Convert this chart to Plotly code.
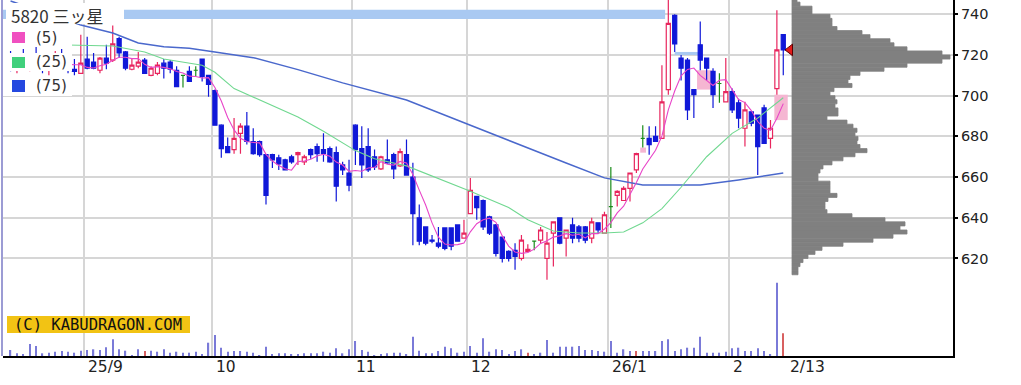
import pandas as pd
import plotly.graph_objects as go

# ---------------- data ----------------
holidays = ["2025-09-15", "2025-09-23", "2025-10-13", "2025-11-03", "2025-11-24",
            "2025-12-31", "2026-01-01", "2026-01-02", "2026-01-12", "2026-02-11"]
trading_days = pd.bdate_range("2025-08-14", "2026-02-13")
trading_days = trading_days[~trading_days.isin(pd.to_datetime(holidays))]

month_labels = ["25/9", "10", "11", "12", "26/1", "2"]
last_label = "2/13"
title_text = "5820 三ッ星"
ma_labels = ["(5)", "(25)", "(75)"]
price_ticks = [620, 640, 660, 680, 700, 720, 740]

open_ = [716, 714, 718, 715, 719, 716, 713, 716, 720, 715,
         713, 711, 718, 716.5, 712.5, 718.5, 717.5, 728, 721.5, 713,
         714.5, 717.5, 710, 711, 716, 716.5, 712.5, 710, 712, 712.5,
         718, 710, 702.5, 685.5, 675, 673.5, 681.5, 685, 677.5, 677.5,
         671, 671, 669.5, 668.5, 670, 671, 667.5, 673.5, 675, 673.5,
         674, 672, 666, 662, 685.5, 674, 675, 670, 664, 668.5,
         671, 665.5, 671, 660, 640, 635.5, 629, 627.5, 635, 635,
         636.5, 630, 642, 650.5, 648.5, 640.5, 636.5, 630.5, 623.5, 624,
         620, 623.5, 628.5, 629, 620, 632.5, 640, 630, 636.5, 635.5,
         635.5, 630, 637.5, 632.5, 645.5, 651, 648.5, 654.5, 663.5, 679,
         679, 680, 679, 703, 739.5, 718.5, 717.5, 703, 725, 718.5,
         712, 706, 697, 702, 696.5, 684, 692, 690.5, 694, 679,
         703.5, 730]
high = [722, 720, 723, 721, 724, 720, 718, 722, 723, 719,
        718, 730, 729, 721, 719, 725, 734.5, 729, 722, 718.5,
        721.5, 718.5, 714.5, 716.5, 718, 717.5, 714.5, 710, 714.5, 714.5,
        718, 710, 703, 686, 679.5, 689, 686.5, 692, 684, 678,
        671, 671.5, 671, 669, 671, 672.5, 671, 674, 676.5, 681.5,
        675, 675, 667.5, 668.5, 686, 685, 684, 673.5, 670.5, 678.5,
        672, 674, 678.5, 667, 646.5, 635.5, 631.5, 635.5, 635, 635,
        636.5, 639, 659.5, 650.5, 649, 641, 637, 630.5, 624, 627.5,
        631.5, 627, 628.5, 635.5, 633, 638, 640, 634, 640, 636.5,
        636, 640, 637.5, 643, 665, 653.5, 655.5, 662, 672, 685.5,
        685, 685, 715, 747, 740, 720, 718.5, 703, 736.5, 718.5,
        713.5, 711, 718.5, 703.5, 698.5, 697, 692.5, 690.5, 695.5, 688,
        742, 730]
low = [712, 711, 713, 712, 714, 711, 710, 713, 714, 711,
       710, 711, 713, 713, 711, 713, 716.5, 718.5, 712.5, 712.5,
       713.5, 711, 709.5, 710, 708.5, 711, 704.5, 704, 707, 709.5,
       707, 699.5, 685.5, 669.5, 672, 671.5, 671.5, 676, 671, 670,
       646.5, 664.5, 663.5, 663.5, 666.5, 666, 666, 669, 667.5, 667.5,
       667, 648, 661, 653, 666, 659.5, 662.5, 663.5, 663.5, 666.5,
       659, 665, 661, 626.5, 626.5, 626.5, 627.5, 625, 624, 624,
       628.5, 630, 642, 639, 634, 631.5, 621, 618, 618.5, 614.5,
       619, 623, 624, 627.5, 609.5, 616, 627, 621, 627.5, 628,
       627.5, 627.5, 632, 632.5, 635, 645.5, 648.5, 648, 662, 674.5,
       671, 677.5, 679, 700.5, 721.5, 707.5, 688, 689, 712.5, 707.5,
       694, 696.5, 697, 691.5, 684, 675, 685, 661, 676.5, 674,
       700.5, 710]
close = [714, 718, 715, 719, 716, 713, 716, 720, 715, 713,
         712, 716, 713.5, 713.5, 718.5, 716, 725.5, 721, 713.5, 715,
         716.5, 711, 713.5, 715, 713.5, 713, 704.5, 710, 707, 712.5,
         709.5, 705.5, 685.5, 674, 672, 679, 685, 677.5, 671.5, 671,
         651, 668.5, 666.5, 663.5, 667.5, 672, 670, 671, 671.5, 671.5,
         667.5, 655.5, 663.5, 656, 673.5, 666, 663.5, 665, 670, 667,
         664, 672.5, 661, 642, 628.5, 627.5, 628.5, 626, 625, 626,
         628.5, 632.5, 653.5, 645, 635.5, 632.5, 622.5, 620, 620, 621,
         629, 624.5, 628.5, 634, 627.5, 638, 627.5, 634, 630, 630,
         629, 638, 634, 641.5, 645.5, 653, 654.5, 662, 671.5, 679,
         676, 677.5, 697, 735.5, 725.5, 713.5, 693, 700.5, 717.5, 713.5,
         700.5, 706, 702, 693, 689, 693, 686.5, 675, 676.5, 684,
         722.5, 722.5]
volume = [60, 27, 20, 120, 100, 27, 33, 43, 50, 43,
          33, 53, 60, 67, 60, 87, 167, 67, 53, 10,
          67, 50, 53, 43, 67, 33, 43, 33, 33, 43,
          20, 133, 210, 83, 43, 50, 50, 43, 33, 10,
          93, 20, 27, 27, 20, 20, 27, 27, 27, 43,
          33, 77, 27, 67, 150, 60, 43, 10, 20, 27,
          33, 33, 20, 193, 53, 27, 27, 50, 93, 77,
          33, 43, 100, 33, 177, 43, 67, 60, 20, 50,
          67, 33, 20, 33, 160, 33, 93, 93, 93, 100,
          60, 60, 50, 43, 150, 33, 67, 50, 50, 50,
          50, 50, 150, 167, 50, 67, 83, 83, 193, 33,
          33, 33, 43, 77, 83, 50, 50, 77, 50, 20,
          733, 227]
volume_red_days = [21, 81, 98, 121]

ma25_idx = [0, 10, 16, 21, 24, 30, 32, 35, 40, 45, 49, 54, 57, 62, 72, 78, 81, 85,
            89, 93, 96, 99, 102, 105, 109, 113, 117, 121]
ma25_val = [725.5, 725.0, 724.4, 721.5, 718.0, 715.0, 711.5, 703.5, 696.5, 689.5,
            682.5, 673.0, 669.0, 665.5, 653.0, 645.0, 639.0, 633.5, 632.5, 632.5,
            633.0, 637.5, 644.5, 655.0, 670.0, 681.5, 689.0, 699.0]
ma75_idx = [0, 11, 16, 20, 24, 28, 32, 38, 45, 52, 62, 71, 79, 87, 93, 99, 108, 114, 121]
ma75_val = [746.5, 734.7, 730.8, 725.9, 724.0, 723.3, 721.5, 718.7, 712.8, 706.3,
            697.9, 686.6, 676.8, 666.9, 659.6, 656.1, 656.1, 658.6, 662.0]

# price-by-volume profile (2-yen bins, centres from 747 down to 613)
profile_price = list(range(747, 612, -2))
profile_volume = [5, 8, 20, 20, 38, 40, 40, 45, 70, 78,
                  98, 102, 115, 150, 158, 150, 115, 92, 68, 58,
                  56, 60, 42, 38, 43, 45, 43, 46, 46, 35,
                  55, 61, 65, 63, 66, 65, 68, 75, 63, 51,
                  40, 31, 28, 26, 26, 38, 38, 38, 45, 36,
                  33, 33, 35, 60, 93, 113, 108, 115, 101, 81,
                  51, 30, 23, 16, 11, 8, 6, 6]

# unfilled price gaps (windows)
gap_start = [-2, 104.0, 107.5, 98.6, 119.6]
gap_end = [102.5, 108.0, 109.8, 99.5, 121.7]
gap_low = [737.7, 720.0, 703.0, 672.0, 688.0]
gap_high = [742.2, 721.5, 712.5, 674.5, 700.5]
gap_kind = ["down", "down", "up", "up", "up"]

# ---------------- styling ----------------
W, H = 1021, 385
L, R, T, B = 3, 68, 0, 29
PW, PH = W - L - R, H - T - B
X0_PX, STEP_PX = 10.56, 6.386           # pixel of first candle, pixels per day
PROFILE_PX = 792                        # left edge of the volume profile
Y_RANGE = [572.07, 747.03]
GRID = "#d6d6d6"
UP_C, DN_C, EQ_C = "#e8265e", "#1018d8", "#1a8c1a"
MA_COLORS = ["#e845c8", "#70d890", "#4a68cc"]
LEG_COLORS = ["#f050c0", "#40d07c", "#2448e0"]
GAP_COLORS = {"down": "#a9c9f2", "up": "#f5b6d2"}

def fx(px):
    return (px - L) / PW

def fy(py):
    return 1 - (py - T) / PH

n = len(close)
idx = list(range(n))
x_range = [(L - X0_PX) / STEP_PX, (L + PW - X0_PX) / STEP_PX]

fig = go.Figure()

# moving averages
ma5_x = idx[4:]
ma5_y = [sum(close[i - 4:i + 1]) / 5 for i in ma5_x]
for xs, ys, col, w in [(ma75_idx, ma75_val, MA_COLORS[2], 1.5),
                       (ma25_idx, ma25_val, MA_COLORS[1], 1.1),
                       (ma5_x, ma5_y, MA_COLORS[0], 1.1)]:
    fig.add_trace(go.Scatter(x=xs, y=ys, mode="lines", line=dict(color=col, width=w),
                             hoverinfo="skip", showlegend=False))

# candles
def candle(ids, color, fill):
    return go.Candlestick(
        x=ids, open=[open_[i] for i in ids], high=[high[i] for i in ids],
        low=[low[i] for i in ids], close=[close[i] for i in ids],
        increasing=dict(line=dict(color=color, width=1.2), fillcolor=fill),
        decreasing=dict(line=dict(color=color, width=1.2), fillcolor=fill),
        whiskerwidth=0, showlegend=False, hoverinfo="skip")

up = [i for i in idx if close[i] > open_[i]]
dn = [i for i in idx if close[i] < open_[i]]
eq = [i for i in idx if close[i] == open_[i]]
fig.add_trace(candle(up, UP_C, "white"))
fig.add_trace(candle(dn, DN_C, DN_C))
fig.add_trace(candle(eq, EQ_C, EQ_C))

# volume
vol_colors = ["#d86060" if i in volume_red_days else "#7a7ad8" for i in idx]
fig.add_trace(go.Bar(x=idx, y=volume, width=0.2, yaxis="y2",
                     marker=dict(color=vol_colors, line=dict(width=0)),
                     hoverinfo="skip", showlegend=False))

# volume profile
fig.add_trace(go.Bar(y=profile_price, x=profile_volume, orientation="h", width=2,
                     xaxis="x3", yaxis="y",
                     marker=dict(color="#808080", line=dict(color="#808080", width=0.8)),
                     hoverinfo="skip", showlegend=False))
# current price marker
fig.add_trace(go.Scatter(x=[-2], y=[close[-1]], xaxis="x3", yaxis="y", mode="markers",
                         marker=dict(symbol="triangle-left", size=10, color="#e31a1a",
                                     line=dict(color="#5a0000", width=1)),
                         hoverinfo="skip", showlegend=False))

shapes = []
for x0, x1, lo, hi, kind in zip(gap_start, gap_end, gap_low, gap_high, gap_kind):
    shapes.append(dict(type="rect", xref="x", yref="y", x0=x0, x1=x1, y0=lo, y1=hi,
                       fillcolor=GAP_COLORS[kind], line=dict(width=0), layer="between"))

def rect_px(x0, y0, x1, y1, color):
    return dict(type="rect", xref="paper", yref="paper", x0=fx(x0), x1=fx(x1),
                y0=fy(y1), y1=fy(y0), fillcolor=color, line=dict(width=0), layer="above")

shapes.append(rect_px(6, 3, 124, 24, "white"))
for (y0, y1) in [(28, 47), (53, 71), (76, 96)]:
    shapes.append(rect_px(3, y0, 72, y1, "white"))
for col, (y0, y1) in zip(LEG_COLORS, [(32, 43), (57, 68), (80, 92)]):
    shapes.append(rect_px(12, y0, 25, y1, col))
shapes.append(rect_px(7, 316, 190, 333, "#f2c314"))
shapes.append(dict(type="line", xref="paper", yref="paper", x0=fx(2), x1=fx(2), y0=0, y1=1,
                   line=dict(color="#9c9cd4", width=2), layer="above"))

annotations = [dict(text=title_text, x=fx(9), y=fy(15), xref="paper", yref="paper",
                    xanchor="left", yanchor="middle", showarrow=False,
                    font=dict(family="Noto Sans CJK JP", size=17, color="#333"))]
for lab, yy in zip(ma_labels, [38, 62, 86]):
    annotations.append(dict(text=lab, x=fx(34), y=fy(yy), xref="paper", yref="paper",
                            xanchor="left", yanchor="middle", showarrow=False,
                            font=dict(family="DejaVu Sans", size=15, color="#333")))
annotations.append(dict(text="(C) KABUDRAGON.COM", x=fx(12), y=fy(324.5), xref="paper",
                        yref="paper", xanchor="left", yanchor="middle", showarrow=False,
                        font=dict(family="DejaVu Sans Mono", size=15.5, color="#111")))

month_first = [i for i in range(1, n) if trading_days[i].month != trading_days[i - 1].month]
grid_x = [m - 0.5 for m in month_first]
for gx, lab in zip(grid_x + [n - 0.5], month_labels + [last_label]):
    annotations.append(dict(text=lab, x=gx, y=0, xref="x", yref="paper", xanchor="left",
                            yanchor="middle", yshift=-11, xshift=2, showarrow=False,
                            font=dict(family="DejaVu Sans", size=15.5, color="#222")))

fig.update_layout(
    width=W, height=H, margin=dict(l=L, r=R, t=T, b=B, pad=0),
    paper_bgcolor="white", plot_bgcolor="white", showlegend=False,
    boxgap=0.2, boxgroupgap=0.2,
    xaxis=dict(range=x_range, tickvals=grid_x, showticklabels=False, ticks="",
               showgrid=True, gridcolor=GRID, gridwidth=1.5, zeroline=False,
               showline=True, linecolor="black", linewidth=2,
               rangeslider=dict(visible=False)),
    yaxis=dict(range=Y_RANGE, side="right", tickvals=price_ticks, ticks="outside",
               ticklen=3, tickwidth=1.5, tickcolor="black", showline=True,
               linecolor="black", linewidth=2, showgrid=True, gridcolor=GRID,
               gridwidth=1.5, zeroline=False,
               tickfont=dict(family="DejaVu Sans", size=14.5, color="#222")),
    yaxis2=dict(overlaying="y", range=[0, 3560], visible=False),
    xaxis3=dict(overlaying="x", range=[-(PROFILE_PX - L), L + PW - PROFILE_PX], visible=False),
    shapes=shapes, annotations=annotations,
)

fig.write_html("out.html", config={"displayModeBar": False},
               post_script="document.body.style.margin='0px';")
